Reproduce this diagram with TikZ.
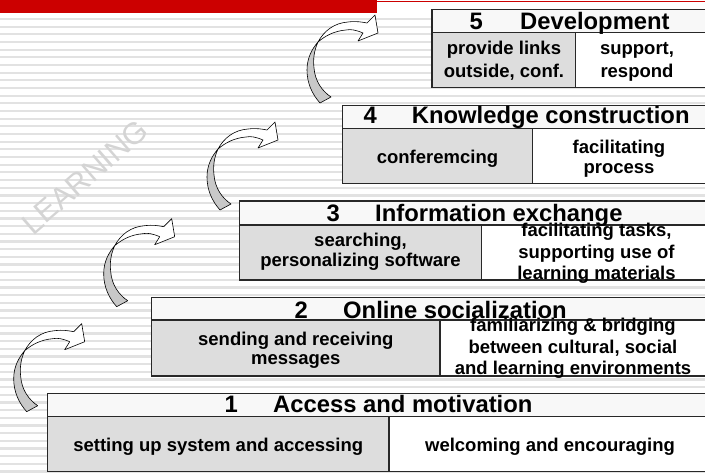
\documentclass[tikz,border=0pt]{standalone}
\usepackage{fontspec}
\setmainfont{Liberation Sans}
\definecolor{redbar}{RGB}{204,0,0}
\definecolor{stripegray}{RGB}{226,226,226}
\definecolor{cellgray}{RGB}{221,221,221}
\definecolor{hdrgray}{RGB}{248,248,248}
\definecolor{arrgray}{RGB}{200,200,200}
\definecolor{learngray}{RGB}{212,212,212}
\definecolor{linegray}{RGB}{40,40,40}
\tikzset{
  boxline/.style={draw=linegray, line width=1.1pt},
  hdrbox/.style={boxline, fill=hdrgray},
  leftbox/.style={boxline, fill=cellgray},
  rightbox/.style={boxline, fill=white},
  hdrtext/.style={font=\bfseries\fontsize{23.8}{26}\selectfont, inner sep=0pt},
  celltext/.style={font=\bfseries\fontsize{18.5}{21}\selectfont, align=center, inner sep=0pt, anchor=base},
  arrowgray/.style={fill=arrgray, draw=black, line width=0.6pt, line join=round},
  arrowwhite/.style={fill=white, draw=black, line width=0.6pt, line join=round},
  pics/bendarrow/.style={code={
    \filldraw[arrowgray] (0,0) .. controls (-8,-9) and (-13,-20) .. (-13,-33)
      .. controls (-13,-45) and (-8,-54) .. (-2,-61)
      .. controls (-6,-52) and (-7,-44) .. (-6,-35)
      .. controls (-5,-22) and (2,-12) .. (11,-6) -- cycle;
    \filldraw[arrowwhite] (-2,-61) .. controls (4,-72) and (14,-80) .. (28,-81)
      .. controls (36,-82) and (42,-81) .. (47,-80) -- (55,-88) -- (58,-70) -- (38,-62) -- (43,-70)
      .. controls (36,-73) and (31,-74) .. (26,-73)
      .. controls (14,-72) and (5,-67) .. (-2,-61) -- cycle;
  }}
}
\begin{document}
\begin{tikzpicture}[x=1pt,y=-1pt]
\clip (0,0) rectangle (705,473);
\fill[white] (0,0) rectangle (705,473);
% stripes
\foreach \k in {0,...,59}{
  \fill[stripegray] (0,{19+7.67*\k-1.1}) rectangle (705,{19+7.67*\k+1.1});
}
% red bar
\fill[redbar] (0,0) rectangle (377,12.7);
\draw[redbar, line width=1pt] (377,1.6) -- (705,1.6);
% watermark
\node[font=\fontsize{30.5}{30.5}\selectfont, text=learngray, rotate=41, inner sep=0pt] (learn) at (85,177) {LEARNING};
% arrows
\pic at (26.7,411.7) {bendarrow};
\pic at (116.7,306.7) {bendarrow};
\pic at (220,210) {bendarrow};
\pic at (320,103) {bendarrow};
% box 5
\draw[hdrbox] (432,9.3) rectangle (707,32.3);
\draw[leftbox] (432,32.3) rectangle (575.7,87.7);
\draw[rightbox] (575.7,32.3) rectangle (707,87.7);
\node[hdrtext, anchor=base east] (n5) at (483,30) {5};
\node[hdrtext, anchor=base west] (t5) at (520,30) {Development};
\node[celltext, font=\bfseries\fontsize{18.5}{22.3}\selectfont] (l5) at (504,77.3) {provide links\\outside, conf.};
\node[celltext, font=\bfseries\fontsize{18.5}{22.3}\selectfont] (r5) at (637,77.3) {support,\\respond};
% box 4
\draw[hdrbox] (342.5,105.7) rectangle (707,128.3);
\draw[leftbox] (342.5,128.3) rectangle (532.7,183.7);
\draw[rightbox] (532.7,128.3) rectangle (707,183.7);
\node[hdrtext, anchor=base east] (n4) at (377,124) {4};
\node[hdrtext, anchor=base west] (t4) at (411.7,124) {Knowledge construction};
\node[celltext] (l4) at (437.5,163.3) {conferemcing};
\node[celltext, font=\bfseries\fontsize{18.5}{20}\selectfont] (r4) at (619,173.3) {facilitating\\process};
% box 3
\draw[hdrbox] (239.3,201) rectangle (707,225);
\draw[leftbox] (239.3,225) rectangle (481.7,280);
\draw[rightbox] (481.7,225) rectangle (707,280);
\node[hdrtext, anchor=base east] (n3) at (340,222) {3};
\node[hdrtext, anchor=base west] (t3) at (375,222) {Information exchange};
\node[celltext, font=\bfseries\fontsize{18.5}{20}\selectfont] (l3) at (360.5,266.7) {searching,\\personalizing software};
\node[celltext, font=\bfseries\fontsize{18.5}{21.7}\selectfont] (r3) at (596.5,280) {facilitating tasks,\\supporting use of\\learning materials};
% box 2
\draw[hdrbox] (151.7,297.7) rectangle (707,320);
\draw[leftbox] (151.7,320) rectangle (440,376);
\draw[rightbox] (440,320) rectangle (707,376);
\node[hdrtext, anchor=base east] (n2) at (308,318.3) {2};
\node[hdrtext, anchor=base west] (t2) at (343,318.3) {Online socialization};
\node[celltext, font=\bfseries\fontsize{18.5}{20}\selectfont] (l2) at (295.8,365) {sending and receiving\\messages};
\node[celltext, font=\bfseries\fontsize{18.5}{21.7}\selectfont] (r2) at (573,375) {familiarizing \& bridging\\between cultural, social\\and learning environments};
% box 1
\draw[hdrbox] (47.7,393.3) rectangle (707,416.7);
\draw[leftbox] (47.7,416.7) rectangle (389,471.7);
\draw[rightbox] (389,416.7) rectangle (707,471.7);
\node[hdrtext, anchor=base east] (n1) at (238,412.7) {1};
\node[hdrtext, anchor=base west] (t1) at (273,412.7) {Access and motivation};
\node[celltext] (l1) at (218.3,451.7) {setting up system and accessing};
\node[celltext] (r1) at (550,451.7) {welcoming and encouraging};
\end{tikzpicture}
\end{document}
